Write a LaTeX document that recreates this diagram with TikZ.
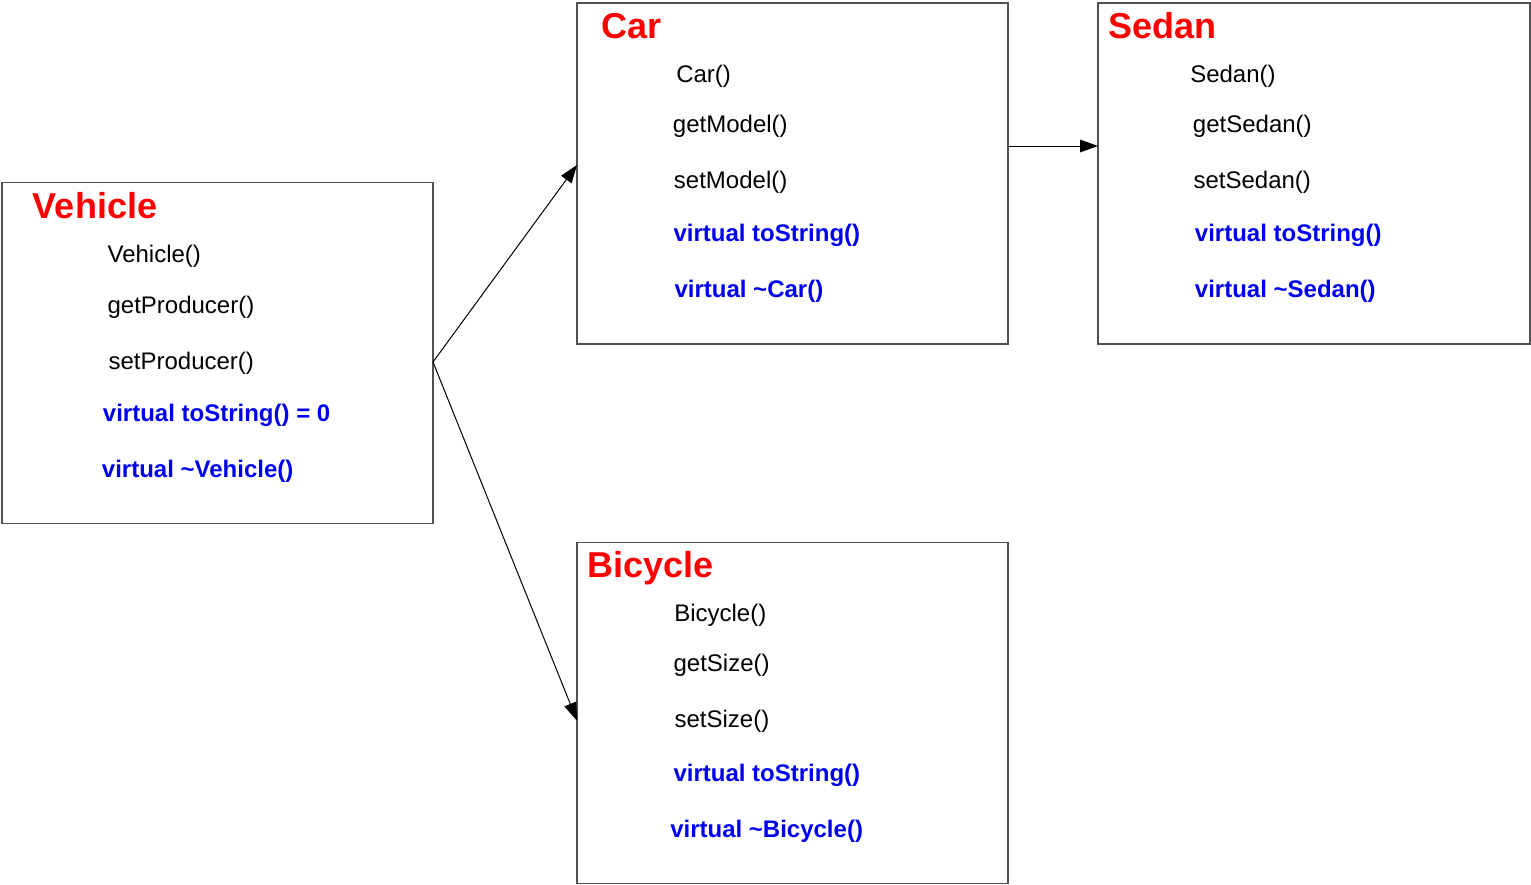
\documentclass[tikz,border=0pt]{standalone}
\usepackage{fontspec}
\setmainfont{Liberation Sans}
\usetikzlibrary{arrows.meta}
\definecolor{boxgray}{RGB}{80,80,80}
\definecolor{titlered}{RGB}{255,0,0}
\definecolor{virtblue}{RGB}{0,0,240}
\begin{document}
\begin{tikzpicture}[x=0.75pt,y=-0.75pt,
  classbox/.style={draw=boxgray,line width=0.9pt,inner sep=0pt,outer sep=0pt,
    minimum width=323.25pt,minimum height=255.75pt},
  title/.style={anchor=base west,inner sep=0pt,text=titlered,
    font=\fontsize{27}{30}\selectfont\bfseries},
  member/.style={anchor=base west,inner sep=0pt,text=black,
    font=\fontsize{18}{21}\selectfont},
  virt/.style={anchor=base west,inner sep=0pt,text=virtblue,
    font=\fontsize{18}{21}\selectfont\bfseries},
  conn/.style={draw=black,line width=0.75pt,-{Triangle[length=13.5pt,width=9.5pt]}}]
\useasboundingbox (0,0) rectangle (1531,885);
\fill[white] (0,0) rectangle (1531,885);

% boxes
\node[classbox] (vehicle) at (217.5,353) {};
\node[classbox] (car) at (792.5,173.5) {};
\node[classbox,minimum width=324pt] (sedan) at (1314,173.5) {};
\node[classbox] (bicycle) at (792.5,713) {};

% Vehicle
\node[title]  (vt)  at (32.7,218) {Vehicle};
\node[member] (v1)  at (107.3,262) {Vehicle()};
\node[member] (v2)  at (107.3,313.5) {getProducer()};
\node[member] (v3)  at (108.3,369.5) {setProducer()};
\node[virt]   (v4)  at (102.7,421.5) {virtual toString() = 0};
\node[virt]   (v5)  at (101.7,477.5) {virtual \textasciitilde Vehicle()};

% Car
\node[title]  (ct)  at (601.7,38) {Car};
\node[member] (c1)  at (676,82) {Car()};
\node[member] (c2)  at (672.7,132.7) {getModel()};
\node[member] (c3)  at (673.7,188.3) {setModel()};
\node[virt]   (c4)  at (673.3,241.5) {virtual toString()};
\node[virt]   (c5)  at (674.3,297.5) {virtual \textasciitilde Car()};

% Sedan
\node[title]  (st)  at (1108.3,38) {Sedan};
\node[member] (s1)  at (1190,82) {Sedan()};
\node[member] (s2)  at (1192.7,132.7) {getSedan()};
\node[member] (s3)  at (1193.3,188.3) {setSedan()};
\node[virt]   (s4)  at (1194.7,241.5) {virtual toString()};
\node[virt]   (s5)  at (1194.7,297.5) {virtual \textasciitilde Sedan()};

% Bicycle
\node[title]  (bt)  at (587.3,577.5) {Bicycle};
\node[member] (b1)  at (674,621.3) {Bicycle()};
\node[member] (b2)  at (673.3,671.7) {getSize()};
\node[member] (b3)  at (674.3,727.3) {setSize()};
\node[virt]   (b4)  at (673.3,781.8) {virtual toString()};
\node[virt]   (b5)  at (670,837.5) {virtual \textasciitilde Bicycle()};

% connector heights
\coordinate (yv) at (0,362);
\coordinate (yc) at (0,165);
\coordinate (yb) at (0,720.7);
\coordinate (ys) at (0,146);

\draw[conn] (vehicle.east |- yv) -- (car.west |- yc);
\draw[conn] (vehicle.east |- yv) -- (bicycle.west |- yb);
\draw[conn] (car.east |- ys) -- (sedan.west |- ys);
\end{tikzpicture}
\end{document}
